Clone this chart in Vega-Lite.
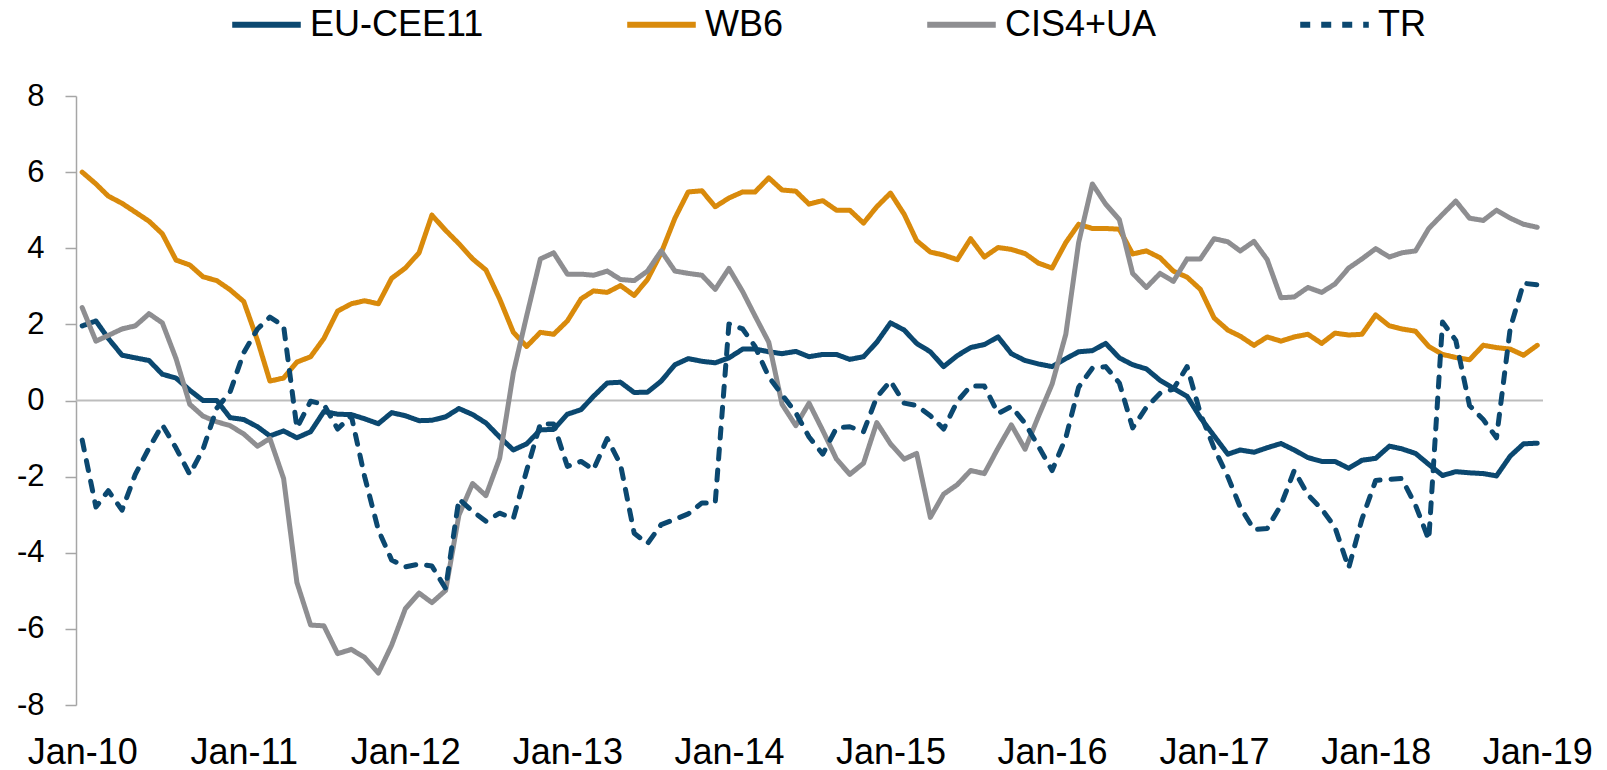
{
  "$schema": "https://vega.github.io/schema/vega-lite/v6.json",
  "width": 1467,
  "height": 609,
  "autosize": {"type": "none"},
  "padding": {"left": 76, "top": 96, "right": 64, "bottom": 65},
  "background": "white",
  "config": {"view": {"stroke": null}, "font": "Liberation Sans"},
  "data": {"values": [
    {"date": "2010-01-01", "EU-CEE11": 1.96, "WB6": 6.00, "CIS4+UA": 2.44, "TR": -1.04},
    {"date": "2010-02-01", "EU-CEE11": 2.09, "WB6": 5.69, "CIS4+UA": 1.56, "TR": -2.80},
    {"date": "2010-03-01", "EU-CEE11": 1.63, "WB6": 5.37, "CIS4+UA": 1.71, "TR": -2.37},
    {"date": "2010-04-01", "EU-CEE11": 1.19, "WB6": 5.18, "CIS4+UA": 1.88, "TR": -2.88},
    {"date": "2010-05-01", "EU-CEE11": 1.12, "WB6": 4.95, "CIS4+UA": 1.96, "TR": -1.94},
    {"date": "2010-06-01", "EU-CEE11": 1.05, "WB6": 4.71, "CIS4+UA": 2.28, "TR": -1.25},
    {"date": "2010-07-01", "EU-CEE11": 0.69, "WB6": 4.38, "CIS4+UA": 2.04, "TR": -0.64},
    {"date": "2010-08-01", "EU-CEE11": 0.59, "WB6": 3.69, "CIS4+UA": 1.10, "TR": -1.25},
    {"date": "2010-09-01", "EU-CEE11": 0.27, "WB6": 3.56, "CIS4+UA": -0.10, "TR": -1.94},
    {"date": "2010-10-01", "EU-CEE11": 0.00, "WB6": 3.25, "CIS4+UA": -0.41, "TR": -1.28},
    {"date": "2010-11-01", "EU-CEE11": 0.00, "WB6": 3.15, "CIS4+UA": -0.56, "TR": -0.20},
    {"date": "2010-12-01", "EU-CEE11": -0.45, "WB6": 2.91, "CIS4+UA": -0.66, "TR": 0.22},
    {"date": "2011-01-01", "EU-CEE11": -0.50, "WB6": 2.60, "CIS4+UA": -0.88, "TR": 1.26},
    {"date": "2011-02-01", "EU-CEE11": -0.69, "WB6": 1.58, "CIS4+UA": -1.20, "TR": 1.88},
    {"date": "2011-03-01", "EU-CEE11": -0.93, "WB6": 0.51, "CIS4+UA": -1.00, "TR": 2.19},
    {"date": "2011-04-01", "EU-CEE11": -0.80, "WB6": 0.59, "CIS4+UA": -2.05, "TR": 1.96},
    {"date": "2011-05-01", "EU-CEE11": -0.98, "WB6": 1.01, "CIS4+UA": -4.78, "TR": -0.72},
    {"date": "2011-06-01", "EU-CEE11": -0.82, "WB6": 1.15, "CIS4+UA": -5.90, "TR": -0.02},
    {"date": "2011-07-01", "EU-CEE11": -0.29, "WB6": 1.63, "CIS4+UA": -5.92, "TR": -0.10},
    {"date": "2011-08-01", "EU-CEE11": -0.36, "WB6": 2.35, "CIS4+UA": -6.65, "TR": -0.75},
    {"date": "2011-09-01", "EU-CEE11": -0.37, "WB6": 2.54, "CIS4+UA": -6.54, "TR": -0.40},
    {"date": "2011-10-01", "EU-CEE11": -0.48, "WB6": 2.62, "CIS4+UA": -6.75, "TR": -2.00},
    {"date": "2011-11-01", "EU-CEE11": -0.61, "WB6": 2.54, "CIS4+UA": -7.16, "TR": -3.40},
    {"date": "2011-12-01", "EU-CEE11": -0.32, "WB6": 3.21, "CIS4+UA": -6.43, "TR": -4.19},
    {"date": "2012-01-01", "EU-CEE11": -0.40, "WB6": 3.48, "CIS4+UA": -5.47, "TR": -4.37},
    {"date": "2012-02-01", "EU-CEE11": -0.53, "WB6": 3.88, "CIS4+UA": -5.06, "TR": -4.30},
    {"date": "2012-03-01", "EU-CEE11": -0.52, "WB6": 4.87, "CIS4+UA": -5.31, "TR": -4.35},
    {"date": "2012-04-01", "EU-CEE11": -0.43, "WB6": 4.47, "CIS4+UA": -4.99, "TR": -4.94},
    {"date": "2012-05-01", "EU-CEE11": -0.21, "WB6": 4.12, "CIS4+UA": -3.01, "TR": -2.59},
    {"date": "2012-06-01", "EU-CEE11": -0.37, "WB6": 3.72, "CIS4+UA": -2.18, "TR": -2.91},
    {"date": "2012-07-01", "EU-CEE11": -0.59, "WB6": 3.43, "CIS4+UA": -2.50, "TR": -3.17},
    {"date": "2012-08-01", "EU-CEE11": -0.96, "WB6": 2.67, "CIS4+UA": -1.52, "TR": -2.96},
    {"date": "2012-09-01", "EU-CEE11": -1.30, "WB6": 1.79, "CIS4+UA": 0.73, "TR": -3.10},
    {"date": "2012-10-01", "EU-CEE11": -1.14, "WB6": 1.42, "CIS4+UA": 2.22, "TR": -1.84},
    {"date": "2012-11-01", "EU-CEE11": -0.77, "WB6": 1.79, "CIS4+UA": 3.72, "TR": -0.61},
    {"date": "2012-12-01", "EU-CEE11": -0.76, "WB6": 1.74, "CIS4+UA": 3.88, "TR": -0.62},
    {"date": "2013-01-01", "EU-CEE11": -0.36, "WB6": 2.09, "CIS4+UA": 3.32, "TR": -1.73},
    {"date": "2013-02-01", "EU-CEE11": -0.24, "WB6": 2.67, "CIS4+UA": 3.32, "TR": -1.60},
    {"date": "2013-03-01", "EU-CEE11": 0.11, "WB6": 2.88, "CIS4+UA": 3.29, "TR": -1.82},
    {"date": "2013-04-01", "EU-CEE11": 0.46, "WB6": 2.84, "CIS4+UA": 3.40, "TR": -1.00},
    {"date": "2013-05-01", "EU-CEE11": 0.48, "WB6": 3.02, "CIS4+UA": 3.18, "TR": -1.68},
    {"date": "2013-06-01", "EU-CEE11": 0.21, "WB6": 2.76, "CIS4+UA": 3.15, "TR": -3.49},
    {"date": "2013-07-01", "EU-CEE11": 0.22, "WB6": 3.18, "CIS4+UA": 3.40, "TR": -3.76},
    {"date": "2013-08-01", "EU-CEE11": 0.51, "WB6": 3.88, "CIS4+UA": 3.93, "TR": -3.26},
    {"date": "2013-09-01", "EU-CEE11": 0.94, "WB6": 4.79, "CIS4+UA": 3.40, "TR": -3.12},
    {"date": "2013-10-01", "EU-CEE11": 1.10, "WB6": 5.48, "CIS4+UA": 3.34, "TR": -2.98},
    {"date": "2013-11-01", "EU-CEE11": 1.03, "WB6": 5.51, "CIS4+UA": 3.29, "TR": -2.69},
    {"date": "2013-12-01", "EU-CEE11": 0.99, "WB6": 5.09, "CIS4+UA": 2.92, "TR": -2.69},
    {"date": "2014-01-01", "EU-CEE11": 1.12, "WB6": 5.32, "CIS4+UA": 3.47, "TR": 2.01},
    {"date": "2014-02-01", "EU-CEE11": 1.35, "WB6": 5.48, "CIS4+UA": 2.86, "TR": 1.88},
    {"date": "2014-03-01", "EU-CEE11": 1.35, "WB6": 5.48, "CIS4+UA": 2.22, "TR": 1.42},
    {"date": "2014-04-01", "EU-CEE11": 1.28, "WB6": 5.85, "CIS4+UA": 1.53, "TR": 0.62},
    {"date": "2014-05-01", "EU-CEE11": 1.23, "WB6": 5.53, "CIS4+UA": -0.10, "TR": 0.15},
    {"date": "2014-06-01", "EU-CEE11": 1.29, "WB6": 5.50, "CIS4+UA": -0.66, "TR": -0.32},
    {"date": "2014-07-01", "EU-CEE11": 1.15, "WB6": 5.16, "CIS4+UA": -0.07, "TR": -0.96},
    {"date": "2014-08-01", "EU-CEE11": 1.21, "WB6": 5.25, "CIS4+UA": -0.79, "TR": -1.41},
    {"date": "2014-09-01", "EU-CEE11": 1.21, "WB6": 5.00, "CIS4+UA": -1.54, "TR": -0.72},
    {"date": "2014-10-01", "EU-CEE11": 1.08, "WB6": 5.00, "CIS4+UA": -1.94, "TR": -0.69},
    {"date": "2014-11-01", "EU-CEE11": 1.15, "WB6": 4.66, "CIS4+UA": -1.65, "TR": -0.82},
    {"date": "2014-12-01", "EU-CEE11": 1.53, "WB6": 5.09, "CIS4+UA": -0.58, "TR": 0.09},
    {"date": "2015-01-01", "EU-CEE11": 2.04, "WB6": 5.45, "CIS4+UA": -1.14, "TR": 0.51},
    {"date": "2015-02-01", "EU-CEE11": 1.85, "WB6": 4.89, "CIS4+UA": -1.54, "TR": -0.07},
    {"date": "2015-03-01", "EU-CEE11": 1.50, "WB6": 4.20, "CIS4+UA": -1.39, "TR": -0.13},
    {"date": "2015-04-01", "EU-CEE11": 1.28, "WB6": 3.90, "CIS4+UA": -3.07, "TR": -0.40},
    {"date": "2015-05-01", "EU-CEE11": 0.89, "WB6": 3.82, "CIS4+UA": -2.46, "TR": -0.75},
    {"date": "2015-06-01", "EU-CEE11": 1.18, "WB6": 3.70, "CIS4+UA": -2.21, "TR": -0.02},
    {"date": "2015-07-01", "EU-CEE11": 1.39, "WB6": 4.25, "CIS4+UA": -1.84, "TR": 0.38},
    {"date": "2015-08-01", "EU-CEE11": 1.47, "WB6": 3.77, "CIS4+UA": -1.92, "TR": 0.38},
    {"date": "2015-09-01", "EU-CEE11": 1.67, "WB6": 4.02, "CIS4+UA": -1.25, "TR": -0.34},
    {"date": "2015-10-01", "EU-CEE11": 1.23, "WB6": 3.97, "CIS4+UA": -0.64, "TR": -0.16},
    {"date": "2015-11-01", "EU-CEE11": 1.05, "WB6": 3.86, "CIS4+UA": -1.28, "TR": -0.60},
    {"date": "2015-12-01", "EU-CEE11": 0.96, "WB6": 3.61, "CIS4+UA": -0.42, "TR": -1.20},
    {"date": "2016-01-01", "EU-CEE11": 0.89, "WB6": 3.48, "CIS4+UA": 0.43, "TR": -1.84},
    {"date": "2016-02-01", "EU-CEE11": 1.10, "WB6": 4.15, "CIS4+UA": 1.74, "TR": -0.98},
    {"date": "2016-03-01", "EU-CEE11": 1.28, "WB6": 4.63, "CIS4+UA": 4.15, "TR": 0.35},
    {"date": "2016-04-01", "EU-CEE11": 1.31, "WB6": 4.52, "CIS4+UA": 5.69, "TR": 0.85},
    {"date": "2016-05-01", "EU-CEE11": 1.50, "WB6": 4.52, "CIS4+UA": 5.16, "TR": 0.89},
    {"date": "2016-06-01", "EU-CEE11": 1.12, "WB6": 4.50, "CIS4+UA": 4.75, "TR": 0.46},
    {"date": "2016-07-01", "EU-CEE11": 0.94, "WB6": 3.85, "CIS4+UA": 3.34, "TR": -0.72},
    {"date": "2016-08-01", "EU-CEE11": 0.83, "WB6": 3.93, "CIS4+UA": 2.97, "TR": -0.18},
    {"date": "2016-09-01", "EU-CEE11": 0.53, "WB6": 3.75, "CIS4+UA": 3.34, "TR": 0.19},
    {"date": "2016-10-01", "EU-CEE11": 0.32, "WB6": 3.40, "CIS4+UA": 3.13, "TR": 0.30},
    {"date": "2016-11-01", "EU-CEE11": 0.11, "WB6": 3.24, "CIS4+UA": 3.72, "TR": 0.89},
    {"date": "2016-12-01", "EU-CEE11": -0.45, "WB6": 2.92, "CIS4+UA": 3.72, "TR": -0.34},
    {"date": "2017-01-01", "EU-CEE11": -0.93, "WB6": 2.17, "CIS4+UA": 4.25, "TR": -1.25},
    {"date": "2017-02-01", "EU-CEE11": -1.41, "WB6": 1.85, "CIS4+UA": 4.17, "TR": -2.00},
    {"date": "2017-03-01", "EU-CEE11": -1.30, "WB6": 1.69, "CIS4+UA": 3.93, "TR": -2.80},
    {"date": "2017-04-01", "EU-CEE11": -1.36, "WB6": 1.45, "CIS4+UA": 4.18, "TR": -3.39},
    {"date": "2017-05-01", "EU-CEE11": -1.24, "WB6": 1.67, "CIS4+UA": 3.70, "TR": -3.36},
    {"date": "2017-06-01", "EU-CEE11": -1.13, "WB6": 1.56, "CIS4+UA": 2.70, "TR": -2.75},
    {"date": "2017-07-01", "EU-CEE11": -1.30, "WB6": 1.67, "CIS4+UA": 2.72, "TR": -1.84},
    {"date": "2017-08-01", "EU-CEE11": -1.50, "WB6": 1.74, "CIS4+UA": 2.97, "TR": -2.48},
    {"date": "2017-09-01", "EU-CEE11": -1.60, "WB6": 1.50, "CIS4+UA": 2.84, "TR": -2.85},
    {"date": "2017-10-01", "EU-CEE11": -1.60, "WB6": 1.77, "CIS4+UA": 3.06, "TR": -3.33},
    {"date": "2017-11-01", "EU-CEE11": -1.78, "WB6": 1.72, "CIS4+UA": 3.48, "TR": -4.40},
    {"date": "2017-12-01", "EU-CEE11": -1.57, "WB6": 1.74, "CIS4+UA": 3.72, "TR": -3.12},
    {"date": "2018-01-01", "EU-CEE11": -1.52, "WB6": 2.25, "CIS4+UA": 3.99, "TR": -2.10},
    {"date": "2018-02-01", "EU-CEE11": -1.20, "WB6": 1.96, "CIS4+UA": 3.77, "TR": -2.07},
    {"date": "2018-03-01", "EU-CEE11": -1.27, "WB6": 1.88, "CIS4+UA": 3.88, "TR": -2.05},
    {"date": "2018-04-01", "EU-CEE11": -1.39, "WB6": 1.82, "CIS4+UA": 3.93, "TR": -2.75},
    {"date": "2018-05-01", "EU-CEE11": -1.68, "WB6": 1.42, "CIS4+UA": 4.52, "TR": -3.66},
    {"date": "2018-06-01", "EU-CEE11": -1.97, "WB6": 1.21, "CIS4+UA": 4.89, "TR": 2.06},
    {"date": "2018-07-01", "EU-CEE11": -1.87, "WB6": 1.13, "CIS4+UA": 5.24, "TR": 1.58},
    {"date": "2018-08-01", "EU-CEE11": -1.90, "WB6": 1.07, "CIS4+UA": 4.79, "TR": -0.13},
    {"date": "2018-09-01", "EU-CEE11": -1.92, "WB6": 1.45, "CIS4+UA": 4.73, "TR": -0.50},
    {"date": "2018-10-01", "EU-CEE11": -1.98, "WB6": 1.39, "CIS4+UA": 5.00, "TR": -0.98},
    {"date": "2018-11-01", "EU-CEE11": -1.46, "WB6": 1.35, "CIS4+UA": 4.79, "TR": 1.90},
    {"date": "2018-12-01", "EU-CEE11": -1.14, "WB6": 1.19, "CIS4+UA": 4.63, "TR": 3.08},
    {"date": "2019-01-01", "EU-CEE11": -1.12, "WB6": 1.45, "CIS4+UA": 4.55, "TR": 3.04}
  ]},
  "layer": [
    {
      "data": {"values": [{"zero": 0}]},
      "mark": {"type": "rule", "color": "#bdbdbd", "strokeWidth": 2},
      "encoding": {
        "y": {"field": "zero", "type": "quantitative", "title": null,
              "scale": {"domain": [-8, 8], "nice": false, "zero": false}}
      }
    },
    {
      "transform": [{"fold": ["EU-CEE11", "WB6", "CIS4+UA", "TR"], "as": ["series", "value"]}],
      "mark": {"type": "line", "strokeWidth": 5, "strokeJoin": "round", "strokeCap": "round"},
      "encoding": {
        "x": {
          "field": "date", "type": "temporal",
          "scale": {"type": "utc", "domain": [
            {"year": 2009, "month": 12, "date": 18, "utc": true},
            {"year": 2019, "month": 1, "date": 14, "utc": true}
          ]},
          "axis": {
            "title": null, "domain": false, "ticks": false, "tickSize": 0, "grid": false,
            "format": "%b-%y", "labelFontSize": 36, "labelFont": "Liberation Sans",
            "labelColor": "#000000", "labelPadding": 30, "labelOverlap": false, "labelFlush": false,
            "values": [
              {"year": 2010, "month": 1, "date": 1, "utc": true},
              {"year": 2011, "month": 1, "date": 1, "utc": true},
              {"year": 2012, "month": 1, "date": 1, "utc": true},
              {"year": 2013, "month": 1, "date": 1, "utc": true},
              {"year": 2014, "month": 1, "date": 1, "utc": true},
              {"year": 2015, "month": 1, "date": 1, "utc": true},
              {"year": 2016, "month": 1, "date": 1, "utc": true},
              {"year": 2017, "month": 1, "date": 1, "utc": true},
              {"year": 2018, "month": 1, "date": 1, "utc": true},
              {"year": 2019, "month": 1, "date": 1, "utc": true}
            ]
          }
        },
        "y": {
          "field": "value", "type": "quantitative",
          "scale": {"domain": [-8, 8], "nice": false, "zero": false},
          "axis": {
            "title": null, "grid": false, "values": [-8, -6, -4, -2, 0, 2, 4, 6, 8],
            "labelExpr": "'' + datum.value",
            "domainColor": "#a6a6a6", "domainWidth": 1.5,
            "tickColor": "#a6a6a6", "tickWidth": 1.5, "tickSize": 11,
            "labelFontSize": 31, "labelFont": "Liberation Sans", "labelColor": "#000000",
            "labelPadding": 21
          }
        },
        "color": {
          "field": "series", "type": "nominal",
          "scale": {"domain": ["EU-CEE11", "WB6", "CIS4+UA", "TR"],
                    "range": ["#0b4870", "#d98a0b", "#8e8e91", "#0b4870"]},
          "legend": {
            "orient": "none", "legendX": 153, "legendY": -109, "direction": "horizontal",
            "title": null, "labelFontSize": 36, "labelFont": "Liberation Sans", "labelColor": "#000000",
            "symbolType": "stroke", "symbolSize": 4700, "symbolStrokeWidth": 6,
            "columnPadding": 131, "labelOffset": 6, "labelLimit": 400
          }
        },
        "strokeDash": {
          "field": "series", "type": "nominal",
          "scale": {"domain": ["EU-CEE11", "WB6", "CIS4+UA", "TR"],
                    "range": [[1, 0], [1, 0], [1, 0], [10, 11]]},
          "legend": {
            "orient": "none", "legendX": 153, "legendY": -109, "direction": "horizontal",
            "title": null, "labelFontSize": 36, "labelFont": "Liberation Sans", "labelColor": "#000000",
            "symbolType": "stroke", "symbolSize": 4700, "symbolStrokeWidth": 6,
            "columnPadding": 131, "labelOffset": 6, "labelLimit": 400
          }
        }
      }
    }
  ]
}
